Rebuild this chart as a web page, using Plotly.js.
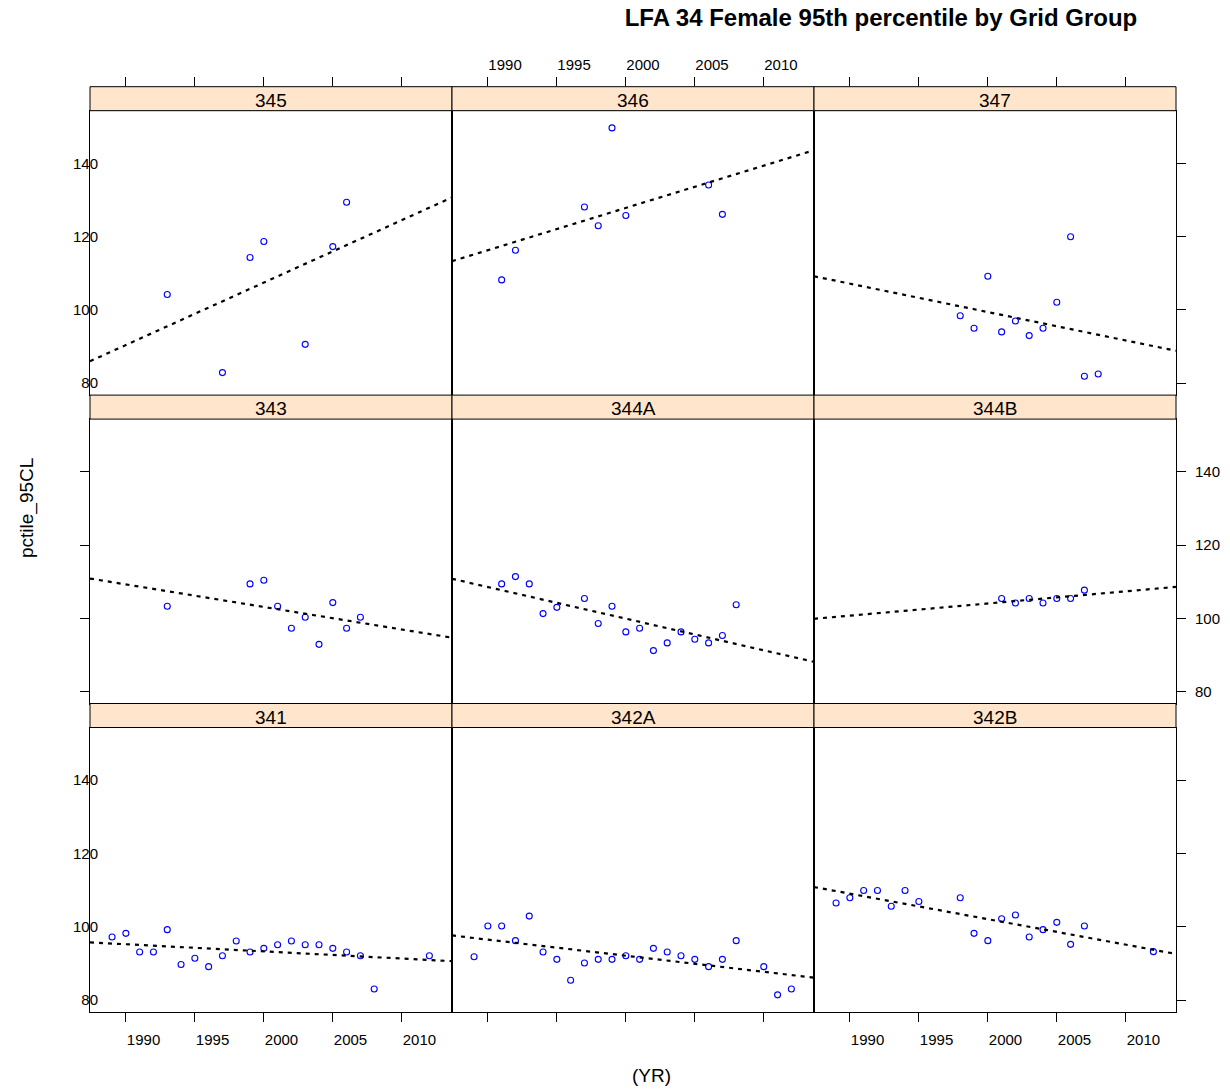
<!DOCTYPE html>
<html>
<head>
<meta charset="utf-8">
<script src="https://cdn.plot.ly/plotly-3.0.1.min.js"></script>
<style>html,body{margin:0;padding:0;background:#fff;}#chart{width:1230px;height:1090px;}</style>
</head>
<body>
<div id="chart"></div>
<script>
// ---------------- data ----------------
const panelNames = ['345', '346', '347', '343', '344A', '344B', '341', '342A', '342B'];

const yr345 = [1993, 1997, 1999, 2000, 2003, 2005, 2006];
const pc345 = [104.2, 82.9, 114.3, 118.7, 90.6, 117.3, 129.4];

const yr346 = [1991, 1992, 1997, 1998, 1999, 2000, 2006, 2007];
const pc346 = [108.2, 116.3, 128.1, 123.0, 149.7, 125.8, 134.1, 126.1];

const yr347 = [1998, 1999, 2000, 2001, 2002, 2003, 2004, 2005, 2006, 2007, 2008];
const pc347 = [98.4, 95.0, 109.2, 94.0, 97.0, 93.0, 95.0, 102.1, 120.0, 81.9, 82.5];

const yr343 = [1993, 1999, 2000, 2001, 2002, 2003, 2004, 2005, 2006, 2007];
const pc343 = [103.3, 109.4, 110.4, 103.3, 97.3, 100.3, 92.9, 104.3, 97.3, 100.3];

const yr344A = [1991, 1992, 1993, 1994, 1995, 1997, 1998, 1999, 2000, 2001, 2002, 2003, 2004, 2005, 2006, 2007, 2008];
const pc344A = [109.4, 111.4, 109.4, 101.3, 103.0, 105.4, 98.6, 103.3, 96.3, 97.3, 91.2, 93.3, 96.3, 94.3, 93.3, 95.3, 103.7];

const yr344B = [2001, 2002, 2003, 2004, 2005, 2006, 2007];
const pc344B = [105.4, 104.2, 105.4, 104.2, 105.4, 105.4, 107.7];

const yr341 = [1989, 1990, 1991, 1992, 1993, 1994, 1995, 1996, 1997, 1998, 1999, 2000, 2001, 2002, 2003, 2004, 2005, 2006, 2007, 2008, 2012];
const pc341 = [97.2, 98.2, 93.1, 93.1, 99.2, 89.7, 91.4, 89.1, 92.1, 96.1, 93.1, 94.1, 95.1, 96.1, 95.1, 95.1, 94.1, 93.1, 92.1, 83.0, 92.1];

const yr342A = [1989, 1990, 1991, 1992, 1993, 1994, 1995, 1996, 1997, 1998, 1999, 2000, 2001, 2002, 2003, 2004, 2005, 2006, 2007, 2008, 2010, 2011, 2012];
const pc342A = [91.8, 100.2, 100.2, 96.2, 102.9, 93.1, 91.1, 85.4, 90.1, 91.1, 91.1, 92.1, 91.1, 94.1, 93.1, 92.1, 91.1, 89.1, 91.1, 96.2, 89.1, 81.4, 83.0];

const yr342B = [1989, 1990, 1991, 1992, 1993, 1994, 1995, 1998, 1999, 2000, 2001, 2002, 2003, 2004, 2005, 2006, 2007, 2012];
const pc342B = [106.5, 107.9, 109.9, 109.9, 105.6, 109.9, 106.9, 107.9, 98.2, 96.2, 102.2, 103.2, 97.2, 99.2, 101.2, 95.2, 100.2, 93.2];

const xTicks = [1990, 1995, 2000, 2005, 2010];
const yTicks = [80, 100, 120, 140];

const titleText = 'LFA 34 Female 95th percentile by Grid Group';
const xLabel = '(YR)';
const yLabel = 'pctile_95CL';

// ---------------- layout geometry ----------------
const W = 1230, H = 1090;
const xRange = [1987.4, 2013.64];
const yRange = [76.75, 154.4];
const colX = [90, 452, 814, 1176];
const rowTop0 = 86.7, stripH = 24, panelH = 284.4, rowStep = stripH + panelH;
const FONT = 'Liberation Sans, Arial, sans-serif';

const series = [
  [yr345, pc345], [yr346, pc346], [yr347, pc347],
  [yr343, pc343], [yr344A, pc344A], [yr344B, pc344B],
  [yr341, pc341], [yr342A, pc342A], [yr342B, pc342B]
];

function fit(x, y) {
  const n = x.length;
  const mx = x.reduce((a, b) => a + b, 0) / n;
  const my = y.reduce((a, b) => a + b, 0) / n;
  let sxy = 0, sxx = 0;
  for (let i = 0; i < n; i++) { sxy += (x[i] - mx) * (y[i] - my); sxx += (x[i] - mx) * (x[i] - mx); }
  const b = sxy / sxx;
  return { a: my - b * mx, b: b };
}

const traces = [];
const layout = {
  width: W, height: H,
  margin: { l: 0, r: 0, t: 0, b: 0 },
  paper_bgcolor: '#ffffff', plot_bgcolor: '#ffffff',
  showlegend: false,
  font: { family: FONT, size: 15, color: '#000' },
  title: {
    text: '<b>' + titleText + '</b>',
    x: 881 / W, xanchor: 'center', xref: 'paper',
    y: 1 - 18 / H, yanchor: 'middle', yref: 'paper',
    font: { family: FONT, size: 24, color: '#000' }
  },
  shapes: [], annotations: []
};

const tickFont = { family: FONT, size: 15, color: '#000' };

for (let i = 0; i < 9; i++) {
  const r = Math.floor(i / 3), c = i % 3;
  const sTop = rowTop0 + r * rowStep;
  const pTop = sTop + stripH, pBot = pTop + panelH;
  const xd = [colX[c] / W, colX[c + 1] / W];
  const yd = [1 - pBot / H, 1 - pTop / H];
  const k = i + 1;
  const xa = 'x' + k, ya = 'y' + k;

  const [xs, ys] = series[i];
  traces.push({
    type: 'scatter', mode: 'markers', x: xs, y: ys, xaxis: xa, yaxis: ya,
    marker: { symbol: 'circle-open', size: 6, color: '#0000ff', line: { width: 1.1, color: '#0000ff' } },
    hoverinfo: 'x+y', cliponaxis: true
  });
  const f = fit(xs, ys);
  traces.push({
    type: 'scatter', mode: 'lines', x: xRange, y: xRange.map(v => f.a + f.b * v), xaxis: xa, yaxis: ya,
    line: { color: '#000', width: 2.2, dash: '4px,5px' }, hoverinfo: 'skip', cliponaxis: true
  });

  const xaxis = {
    domain: xd, anchor: ya, range: xRange, showgrid: false, zeroline: false,
    showline: true, mirror: true, linecolor: '#000', linewidth: 1,
    tickmode: 'array', tickvals: xTicks, ticks: '', showticklabels: false,
    tickfont: tickFont, fixedrange: true
  };
  if (r === 2) {
    xaxis.ticks = 'outside'; xaxis.ticklen = 9; xaxis.tickwidth = 1; xaxis.tickcolor = '#000';
    xaxis.showticklabels = (c !== 1);
    xaxis.ticklabelposition = 'outside right';
    xaxis.ticklabelstandoff = 14;
  }
  const yaxis = {
    domain: yd, anchor: xa, range: yRange, showgrid: false, zeroline: false,
    showline: true, mirror: true, linecolor: '#000', linewidth: 1,
    tickmode: 'array', tickvals: yTicks, ticks: '', showticklabels: false,
    tickfont: tickFont, fixedrange: true
  };
  if (c === 0) {
    if (r === 1) {
      yaxis.ticks = 'outside'; yaxis.ticklen = 9; yaxis.tickwidth = 1; yaxis.tickcolor = '#000';
    } else {
      yaxis.showticklabels = true;
      yaxis.ticklabelstandoff = -12;
    }
  }
  if (c === 2) {
    yaxis.side = 'right';
    yaxis.ticks = 'outside'; yaxis.ticklen = 9; yaxis.tickwidth = 1; yaxis.tickcolor = '#000';
    yaxis.showticklabels = (r === 1);
    yaxis.ticklabelstandoff = 6;
  }
  layout['xaxis' + k] = xaxis;
  layout['yaxis' + k] = yaxis;

  // strip
  layout.shapes.push({
    type: 'rect', xref: 'paper', yref: 'paper',
    x0: xd[0], x1: xd[1], y0: 1 - pTop / H, y1: 1 - sTop / H,
    fillcolor: '#ffe5cc', line: { color: '#000', width: 1 }, layer: 'above'
  });
  layout.annotations.push({
    xref: 'paper', yref: 'paper', x: (xd[0] + xd[1]) / 2, y: 1 - (sTop + stripH / 2 + 1.5) / H,
    xanchor: 'center', yanchor: 'middle', showarrow: false, text: panelNames[i],
    font: { family: FONT, size: 19, color: '#000' }
  });

  // top ticks attached to the top of the strip, via a helper subplot covering the strip
  if (r === 0) {
    const tk = 10 + c;
    layout['xaxis' + tk] = {
      domain: xd, anchor: 'y' + tk, side: 'top', range: xRange,
      showgrid: false, zeroline: false, showline: false,
      tickmode: 'array', tickvals: xTicks, ticks: 'outside', ticklen: 9, tickwidth: 1, tickcolor: '#000',
      showticklabels: (c === 1), ticklabelposition: 'outside right', ticklabelstandoff: 10,
      tickfont: tickFont, fixedrange: true
    };
    layout['yaxis' + tk] = {
      domain: [1 - pTop / H, 1 - sTop / H], anchor: 'x' + tk, range: [0, 1],
      visible: false, showgrid: false, zeroline: false, fixedrange: true
    };
    traces.push({
      type: 'scatter', mode: 'markers', x: [], y: [], xaxis: 'x' + tk, yaxis: 'y' + tk,
      hoverinfo: 'skip', showlegend: false
    });
  }
}

layout.annotations.push({
  xref: 'paper', yref: 'paper', x: 651 / W, y: 1 - 1075 / H, xanchor: 'center', yanchor: 'middle',
  showarrow: false, text: xLabel, font: { family: FONT, size: 19, color: '#000' }
});
layout.annotations.push({
  xref: 'paper', yref: 'paper', x: 27 / W, y: 1 - 508 / H, xanchor: 'center', yanchor: 'middle',
  showarrow: false, text: yLabel, textangle: -90, font: { family: FONT, size: 19, color: '#000' }
});

Plotly.newPlot('chart', traces, layout, { displayModeBar: false, staticPlot: true });
</script>
</body>
</html>
